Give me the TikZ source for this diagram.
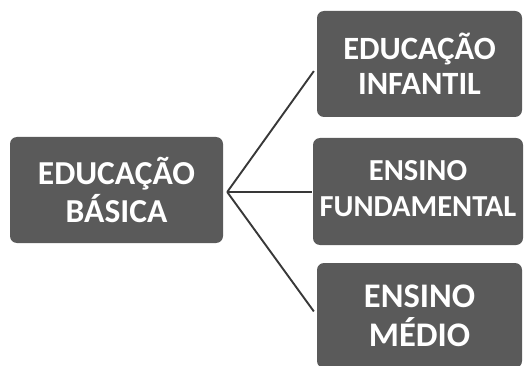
\documentclass[tikz,border=0pt]{standalone}
\usepackage{fontspec}
\setmainfont{Carlito}
\definecolor{boxgray}{HTML}{5A5A5A}
\definecolor{linegray}{HTML}{383838}
\begin{document}
\begin{tikzpicture}[x=1pt,y=-1pt,
  catbox/.style={fill=boxgray, draw=none, rounded corners=7pt, inner sep=0pt,
    text=white, align=center},
  link/.style={draw=linegray, line width=1.9pt}]
\useasboundingbox (0,0) rectangle (524,366);
\node[catbox, minimum width=213pt, minimum height=106pt,
  font=\fontsize{33.5}{38}\selectfont\bfseries] (basica) at (116.5,190) {EDUCAÇÃO\\BÁSICA};
\node[catbox, minimum width=205pt, minimum height=106pt,
  font=\fontsize{32.5}{35}\selectfont\bfseries] (infantil) at (419.5,64) {EDUCAÇÃO\\INFANTIL};
\node[catbox, minimum width=210pt, minimum height=107pt,
  font=\fontsize{30.5}{36}\selectfont\bfseries] (fund) at (418,191.5) {\raisebox{-7pt}{\begin{tabular}{@{}c@{}}ENSINO\\FUNDAMENTAL\end{tabular}}};
\node[catbox, minimum width=205pt, minimum height=105pt,
  font=\fontsize{34.5}{39}\selectfont\bfseries] (medio) at (419.5,315.5) {ENSINO\\MÉDIO};
\coordinate (hub) at ([xshift=4pt,yshift=-2pt]basica.east);
\draw[link, shorten >=5pt] (hub) -- ([yshift=-3pt]infantil.west);
\draw[link, shorten >=1pt] (hub) -- ([yshift=-0.5pt]fund.west);
\draw[link, shorten >=5pt] (hub) -- (medio.west);
\end{tikzpicture}
\end{document}
